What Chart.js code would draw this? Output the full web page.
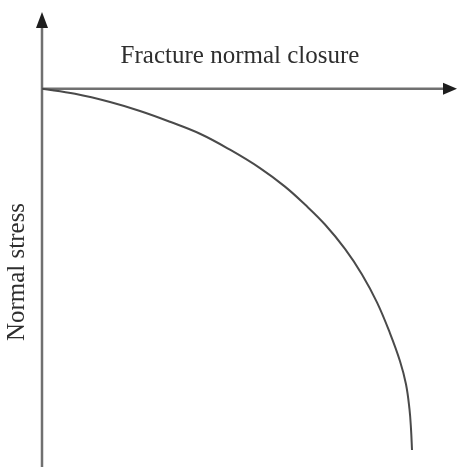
<!DOCTYPE html>
<html>
<head>
<meta charset="utf-8">
<script src="https://cdn.jsdelivr.net/npm/chart.js@4/dist/chart.umd.min.js"></script>
<style>
html,body{margin:0;padding:0;background:#fff;}
#wrap{width:460px;height:467px;}
</style>
</head>
<body>
<div id="wrap"><canvas id="c" width="460" height="467"></canvas></div>
<script>
// Data (arbitrary units)
const closure = [0, 7.95, 16.39, 23.61, 30.84, 38.07, 45.30, 52.53, 58.55, 63.37, 68.19, 73.01, 77.11, 80.72, 83.86, 86.27, 87.71, 88.55, 88.92, 89.16];
const stress  = [0, -1.36, -3.53, -5.90, -8.75, -11.91, -16.13, -20.99, -25.89, -30.64, -35.91, -42.35, -49.10, -56.48, -64.66, -72.04, -78.11, -84.70, -89.98, -95.52];
const xAxisLabel = "Fracture normal closure";
const yAxisLabel = "Normal stress";

const points = closure.map((x, i) => ({x: x, y: stress[i]}));

const axesPlugin = {
  id: 'axesPlugin',
  beforeDatasetsDraw(chart) {
    const ctx = chart.ctx;
    const xs = chart.scales.x, ys = chart.scales.y;
    const ox = xs.getPixelForValue(0), oy = ys.getPixelForValue(0);
    const top = chart.chartArea.top - 1, bottom = chart.chartArea.bottom, right = chart.chartArea.right;
    ctx.save();
    ctx.strokeStyle = '#707070';
    ctx.fillStyle = '#1e1e1e';
    ctx.lineWidth = 2.5;
    // vertical axis
    ctx.beginPath(); ctx.moveTo(ox, bottom); ctx.lineTo(ox, top + 12); ctx.stroke();
    ctx.beginPath(); ctx.moveTo(ox, top); ctx.lineTo(ox - 6, top + 16); ctx.lineTo(ox + 6, top + 16); ctx.closePath(); ctx.fill();
    // horizontal axis
    ctx.beginPath(); ctx.moveTo(ox, oy); ctx.lineTo(right - 12, oy); ctx.stroke();
    ctx.beginPath(); ctx.moveTo(right, oy); ctx.lineTo(right - 14, oy - 6); ctx.lineTo(right - 14, oy + 6); ctx.closePath(); ctx.fill();
    // labels
    ctx.fillStyle = '#2e2e2e';
    ctx.font = '25px "Liberation Serif", "Times New Roman", serif';
    ctx.textAlign = 'center';
    ctx.textBaseline = 'alphabetic';
    ctx.fillText(xAxisLabel, 240, 63);
    ctx.save();
    ctx.translate(24, 272);
    ctx.rotate(-Math.PI / 2);
    ctx.fillText(yAxisLabel, 0, 0);
    ctx.restore();
    ctx.restore();
  }
};

new Chart(document.getElementById('c'), {
  type: 'scatter',
  data: {
    datasets: [{
      data: points,
      showLine: true,
      borderColor: '#4a4a4a',
      borderWidth: 2,
      pointRadius: 0,
      tension: 0.4,
      fill: false
    }]
  },
  options: {
    responsive: false,
    animation: false,
    layout: { padding: { left: 42, top: 13, right: 3, bottom: 0 } },
    plugins: { legend: { display: false }, tooltip: { enabled: false } },
    scales: {
      x: { type: 'linear', min: 0, max: 100, display: false },
      y: { type: 'linear', min: -100, max: 20, display: false }
    }
  },
  plugins: [axesPlugin]
});
</script>
</body>
</html>
